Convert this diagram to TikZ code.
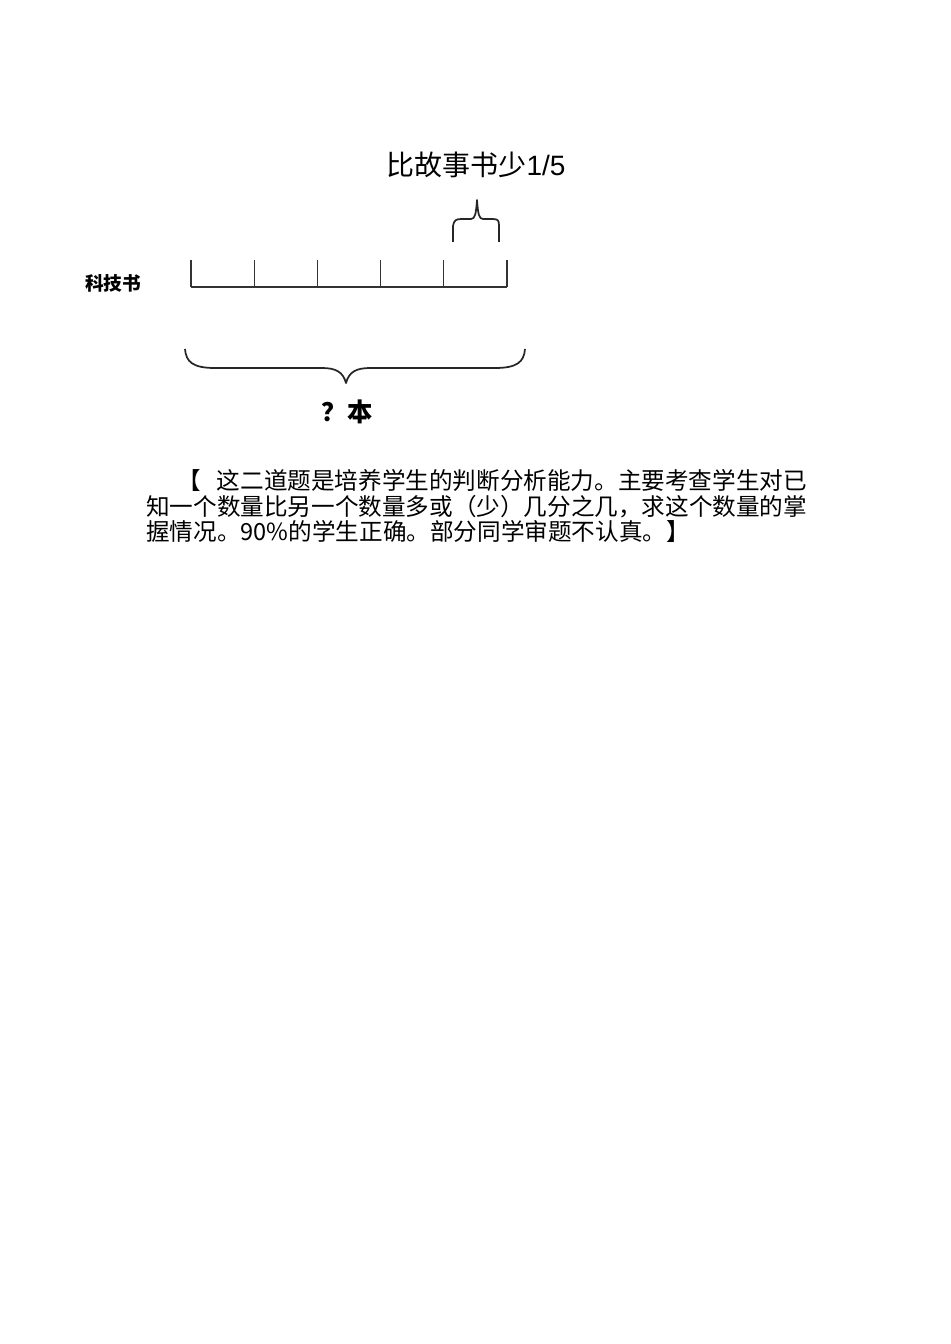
\documentclass[tikz,border=0pt]{standalone}
\usepackage{fontspec}
\usepackage{tikz}
\usetikzlibrary{positioning}
\setmainfont{Liberation Sans}
\newfontfamily\cjk{Noto Sans CJK SC}

\begin{document}
\begin{tikzpicture}[x=0.75pt,y=-0.75pt,
    bar/.style={black!80, line width=0.8pt},
    curly/.style={black!85, line width=1.3pt, line join=round},
    para/.style={anchor=base west, inner sep=0pt, font=\cjk\fontsize{17.7}{21}\selectfont}]
        \useasboundingbox (0,0) rectangle (950,1344);

        % Title
        \node[inner sep=0pt] (title) at (476,165)
            {\fontsize{21}{25}\selectfont{\cjk 比故事书少}1/5};

        % Small brace over last part
        \draw[curly] (453,242) -- (453,226) .. controls (454,220) and (456,219) .. (462,219)
            -- (471,219) .. controls (475,219) and (476,214) .. (477,200)
            .. controls (478,214) and (479,219) .. (483,219) -- (492,219)
            .. controls (498,219) and (499,220) .. (499,226) -- (499,242);

        % Label
        \node[font=\cjk\bfseries\fontsize{14}{17}\selectfont, inner sep=0pt] (kejishu) at (113,283) {科技书};

        % Bar in five parts
        \coordinate (b0) at (191,287);
        \coordinate (b5) at (507,287);
        \draw[bar] (b0) -- (b5);
        \foreach \x in {191,254.2,317.4,380.6,443.8,507} {
            \draw[bar] (\x,260) -- (\x,287);
        }

        % Big brace under the bar
        \draw[curly] (185,349) .. controls (186,362) and (193,368) .. (215,368)
            -- (322,368) .. controls (336,368) and (343,372) .. (346,383)
            .. controls (349,372) and (356,368) .. (370,368)
            -- (495,368) .. controls (517,368) and (524,362) .. (525,349);
        \node[font=\cjk\bfseries\fontsize{19}{22}\selectfont, inner sep=0pt] (qben) at (347,412) {？本};

        % Comment text
        \node[para] (line1) at (177,489) {【\hspace{12pt}这二道题是培养学生的判断分析能力。主要考查学生对已};
        \node[para] (line2) at (146,515) {知一个数量比另一个数量多或（少）几分之几，求这个数量的掌};
        \node[para] (line3) at (146,540) {握情况。90\%的学生正确。部分同学审题不认真。】};
    \end{tikzpicture}
\end{document}
